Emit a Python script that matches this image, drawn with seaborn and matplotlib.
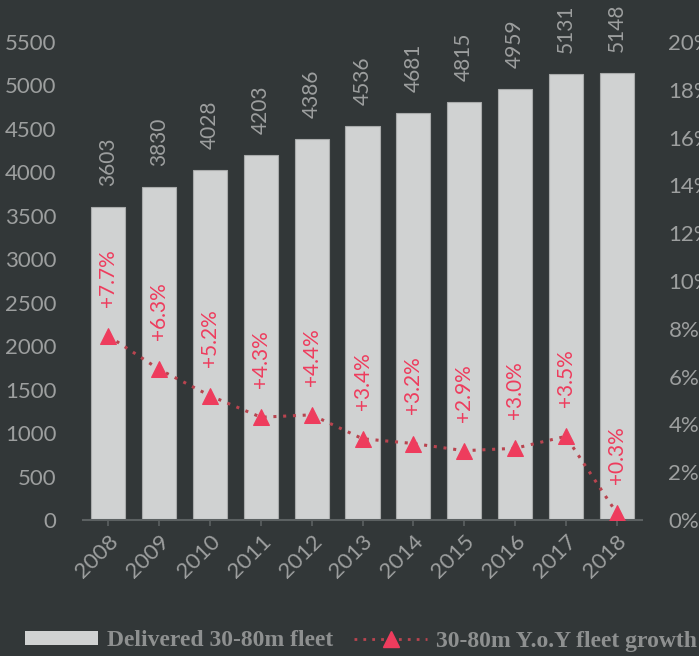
import matplotlib
matplotlib.use("Agg")
import matplotlib.pyplot as plt
import seaborn as sns
import pandas as pd
import numpy as np
from matplotlib.patches import Patch
from matplotlib.lines import Line2D

years = ["2008", "2009", "2010", "2011", "2012", "2013", "2014", "2015", "2016", "2017", "2018"]
fleet = [3603, 3830, 4028, 4203, 4386, 4536, 4681, 4815, 4959, 5131, 5148]
growth = [7.7, 6.3, 5.2, 4.3, 4.4, 3.4, 3.2, 2.9, 3.0, 3.5, 0.3]
left_ticks = [0, 500, 1000, 1500, 2000, 2500, 3000, 3500, 4000, 4500, 5000, 5500]
right_ticks = [0, 2, 4, 6, 8, 10, 12, 14, 16, 18, 20]

BG = "#323738"
BAR = "#d0d2d2"
TXT = "#9d9f9f"
RED = "#ee3c5d"
LINE_RED = "#b9444f"
SPINE = "#5c6162"

sns.set_theme(style="white")
plt.rcParams["font.family"] = ["Lato", "DejaVu Sans"]

df = pd.DataFrame({"year": years, "fleet": fleet, "growth": growth})

fig = plt.figure(figsize=(6.99, 6.56), dpi=100, facecolor=BG)
ax = fig.add_axes([83 / 699, 1 - 520 / 656, (642 - 83) / 699, (520 - 42) / 656])
ax.set_facecolor(BG)

sns.barplot(data=df, x="year", y="fleet", color=BAR, width=0.67, ax=ax,
            edgecolor="#a9abab", linewidth=0.8, saturation=1)
ax.set_xlim(-0.5, 10.5)
ax.set_ylim(0, 5500)
ax.set_yticks(left_ticks)
ax.set_yticklabels([str(t) for t in left_ticks])
ax.set_xlabel("")
ax.set_ylabel("")

for i, v in enumerate(fleet):
    ax.annotate(str(v), (i, v), xytext=(0, 15), textcoords="offset points",
                rotation=90, ha="center", va="bottom", color=TXT, fontsize=15)

ax2 = ax.twinx()
sns.lineplot(x=np.arange(len(years)), y=growth, ax=ax2, color=LINE_RED,
             linestyle=(0, (1, 2.2)), linewidth=2.2, marker="^", markersize=11,
             markerfacecolor=RED, markeredgecolor=RED)
ax2.set_xlim(-0.5, 10.5)
ax2.set_ylim(0, 20)
ax2.set_yticks(right_ticks)
ax2.set_yticklabels([f"{t}%" for t in right_ticks])

for i, g in enumerate(growth):
    ax2.annotate(f"+{g:.1f}%", (i, g), xytext=(0, 21), textcoords="offset points",
                 rotation=90, ha="center", va="bottom", color=RED, fontsize=15)

for a in (ax, ax2):
    for s in ["top", "left", "right", "bottom"]:
        a.spines[s].set_visible(False)
    a.tick_params(axis="y", length=0, pad=19, labelsize=16, labelcolor=TXT)

ax.spines["bottom"].set_visible(True)
ax.spines["bottom"].set_color(SPINE)
ax.spines["bottom"].set_linewidth(1.5)
ax.tick_params(axis="x", length=4, width=1.2, color=SPINE, pad=4, labelsize=16,
               labelcolor=TXT, bottom=True)
for lbl in ax.get_xticklabels():
    lbl.set_rotation(45)
    lbl.set_ha("right")
    lbl.set_rotation_mode("anchor")
ax2.tick_params(axis="x", bottom=False, labelbottom=False)

handles = [
    Patch(facecolor=BAR, edgecolor="none", label="Delivered 30-80m fleet"),
    Line2D([0], [0], color=LINE_RED, linestyle=(0, (1, 2.2)), linewidth=2,
           marker="^", markersize=11, markerfacecolor=RED, markeredgecolor=RED,
           label="30-80m Y.o.Y fleet growth"),
]
leg = fig.legend(handles=handles, loc="center", bbox_to_anchor=(361 / 699, 1 - 641 / 656),
                 ncol=2, frameon=False, handlelength=3.1, handleheight=0.55,
                 handletextpad=0.35, columnspacing=0.9,
                 prop={"family": ["Liberation Serif"], "weight": "bold", "size": 17})
for t in leg.get_texts():
    t.set_color("#8e9090")

fig.savefig("out.png", dpi=100, facecolor=BG)
